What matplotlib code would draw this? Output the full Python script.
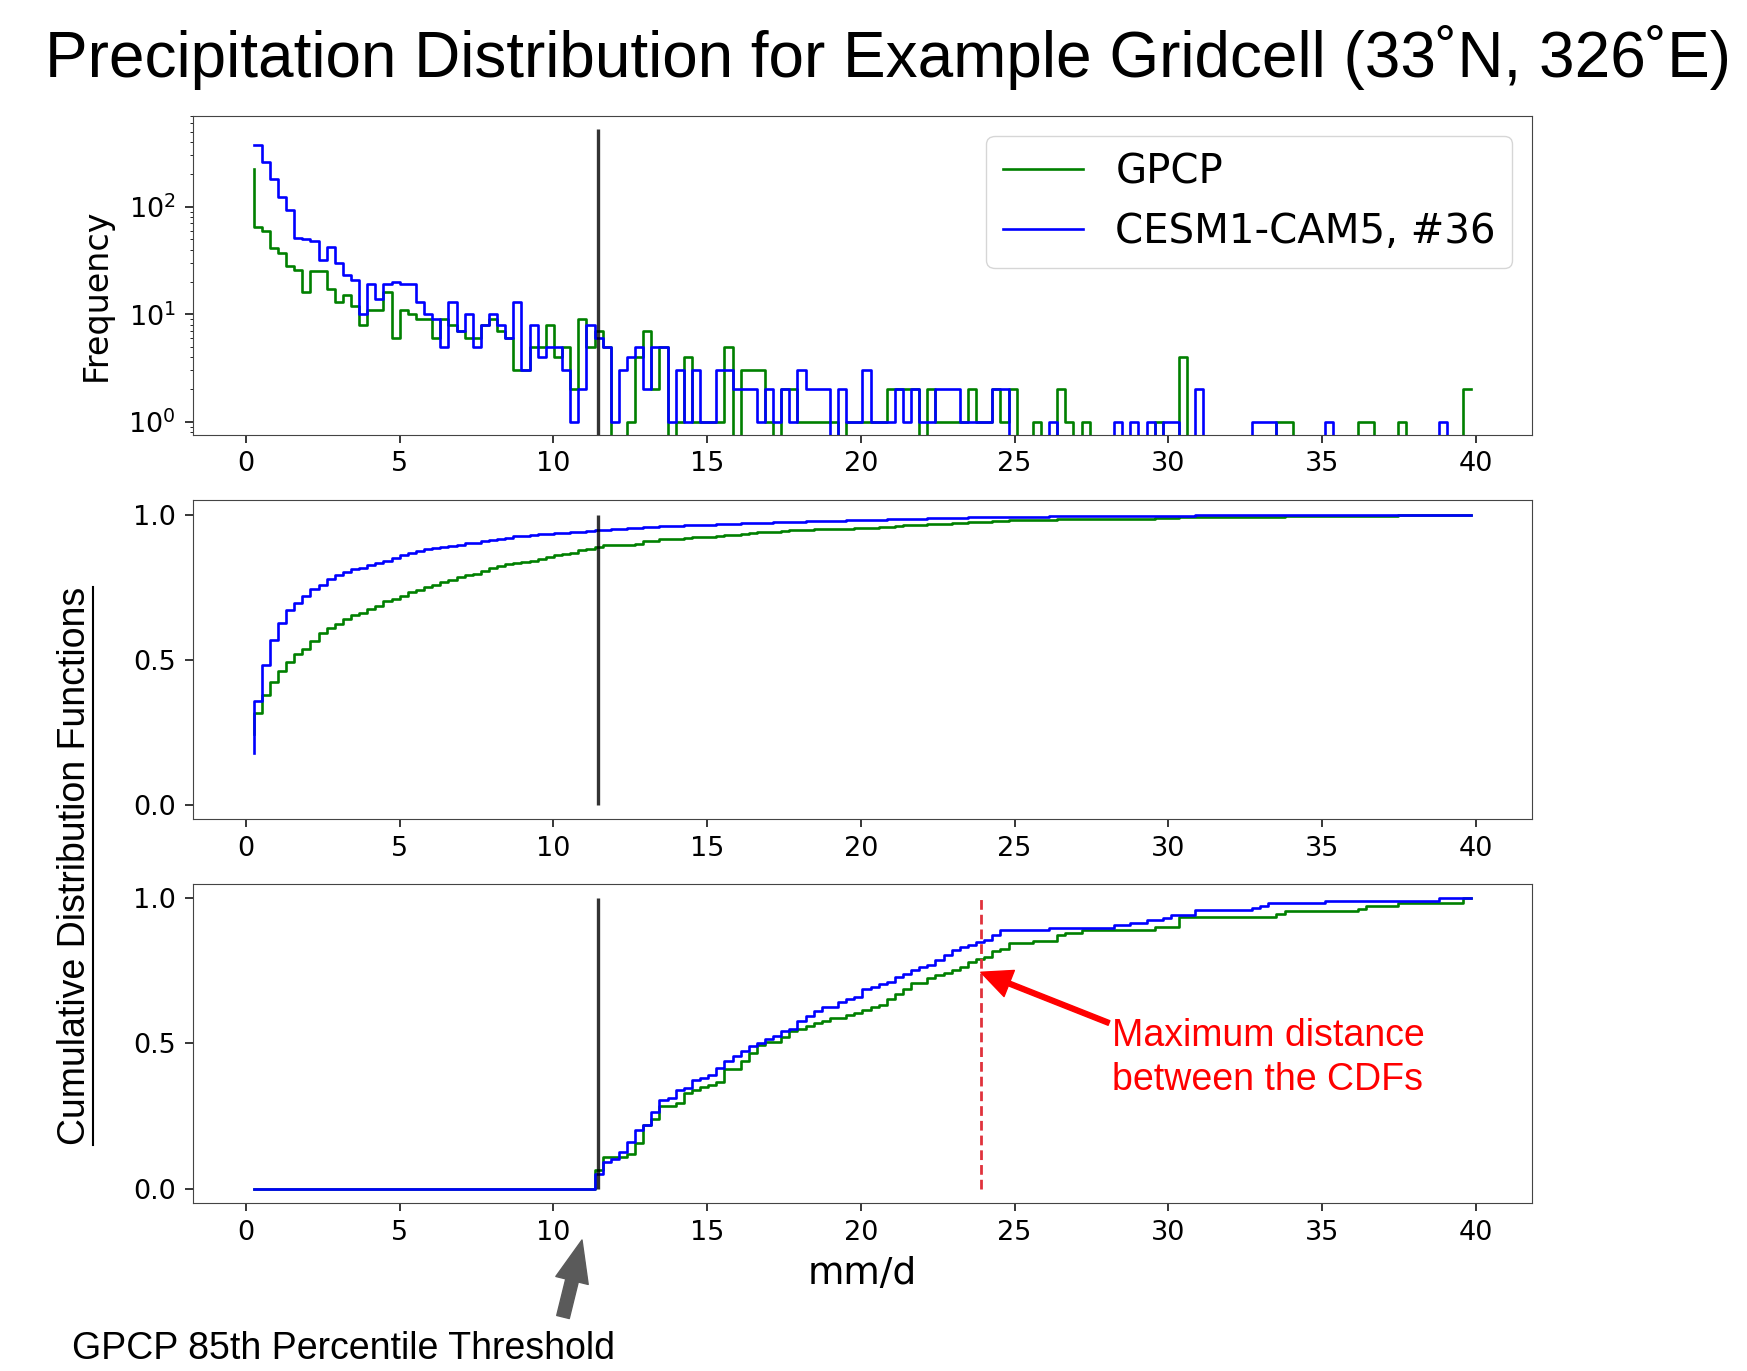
import numpy as np
import matplotlib
matplotlib.use("Agg")
from matplotlib import pyplot as plt
from matplotlib.lines import Line2D

# precipitation bins (mm/d) and number of days falling in each bin
precip_mm = np.linspace(0.25, 39.85, 151)

gpcp_counts = np.array([
    226, 65, 59, 41, 37, 28, 26, 16, 25, 25,
    17, 13, 15, 12, 8, 11, 11, 16, 6, 11,
    10, 9, 9, 6, 9, 8, 7, 6, 6, 8,
    9, 7, 6, 3, 3, 5, 5, 8, 4, 5,
    2, 9, 5, 7, 5, 0, 0, 1, 4, 7,
    2, 5, 0, 1, 4, 1, 1, 1, 1, 5,
    0, 3, 3, 3, 1, 0, 2, 2, 1, 1,
    1, 1, 1, 0, 1, 1, 1, 1, 1, 2,
    2, 2, 2, 0, 2, 1, 1, 1, 1, 2,
    1, 1, 2, 1, 2, 0, 0, 1, 0, 0,
    2, 1, 0, 1, 0, 0, 0, 0, 0, 0,
    0, 0, 1, 0, 0, 4, 0, 0, 0, 0,
    0, 0, 0, 0, 0, 0, 0, 1, 1, 0,
    0, 0, 0, 0, 0, 0, 0, 1, 1, 0,
    0, 0, 1, 0, 0, 0, 0, 0, 0, 0,
    2], dtype=float)

cesm_counts = np.array([
    375, 375, 262, 183, 124, 93, 51, 50, 48, 32,
    42, 30, 23, 21, 10, 19, 14, 19, 20, 19,
    19, 13, 10, 9, 5, 13, 7, 10, 5, 8,
    10, 8, 6, 13, 3, 8, 4, 5, 5, 3,
    1, 2, 8, 6, 5, 1, 3, 4, 5, 2,
    5, 5, 1, 3, 1, 3, 1, 1, 3, 3,
    2, 2, 2, 1, 2, 1, 2, 1, 3, 2,
    2, 2, 0, 2, 1, 1, 3, 1, 1, 1,
    2, 1, 2, 1, 1, 2, 2, 2, 1, 1,
    1, 1, 2, 2, 0, 0, 0, 0, 0, 1,
    0, 0, 0, 0, 0, 0, 0, 1, 0, 1,
    0, 1, 0, 1, 1, 0, 0, 2, 0, 0,
    0, 0, 0, 0, 1, 1, 1, 0, 0, 0,
    0, 0, 0, 1, 0, 0, 0, 0, 0, 0,
    0, 0, 0, 0, 0, 0, 0, 1, 0, 0,
    0], dtype=float)

threshold = 11.46      # GPCP 85th percentile
max_dist_x = 23.9      # location of largest gap between tail CDFs
arrow_y = 0.745
thr_line_top = 525
freq_ylim = (0.76, 700)
xticks = np.arange(0, 41, 5)

W, H = 1747, 1371
fig = plt.figure(figsize=(W / 100, H / 100), dpi=100)


def frac(px, py):
    return px / W, 1 - py / H


ax1 = fig.add_axes([0.1103, 0.683, 0.7667, 0.2325])
ax2 = fig.add_axes([0.1103, 0.4026, 0.7667, 0.2325])
ax3 = fig.add_axes([0.1103, 0.1223, 0.7667, 0.2332])

lw = 1.9
# histogram
ax1.step(precip_mm, gpcp_counts, where="pre", color="g", lw=lw, label="GPCP")
ax1.step(precip_mm, cesm_counts, where="pre", color="b", lw=lw, label="CESM1-CAM5, #36")
ax1.set_yscale("log")
ax1.vlines(threshold, freq_ylim[0], thr_line_top, colors="k", lw=2.4, alpha=0.8)
ax1.set_ylim(*freq_ylim)
ax1.legend(loc="upper right", fontsize=29)
ax1.set_ylabel("Frequency", fontsize=24)
ax1.yaxis.set_label_coords(-0.06, 0.44)

# full CDFs
gpcp_cdf = np.cumsum(gpcp_counts) / gpcp_counts.sum()
cesm_cdf = np.cumsum(cesm_counts) / cesm_counts.sum()
ax2.step(precip_mm, gpcp_cdf, where="pre", color="g", lw=lw)
ax2.step(precip_mm, cesm_cdf, where="pre", color="b", lw=lw)
ax2.vlines(threshold, 0, 1, colors="k", lw=2.4, alpha=0.8)

# CDFs of the days above the threshold
above = precip_mm > threshold
gpcp_tail = np.cumsum(np.where(above, gpcp_counts, 0))
gpcp_tail = gpcp_tail / gpcp_tail[-1]
cesm_tail = np.cumsum(np.where(above, cesm_counts, 0))
cesm_tail = cesm_tail / cesm_tail[-1]
ax3.step(precip_mm, gpcp_tail, where="pre", color="g", lw=lw)
ax3.step(precip_mm, cesm_tail, where="pre", color="b", lw=lw)
ax3.vlines(threshold, 0, 1, colors="k", lw=2.4, alpha=0.8)
ax3.vlines(max_dist_x, 0, 1, colors="#e0323c", lw=2.0, linestyles=(0, (3.5, 1.8)))
ax3.set_xlabel("mm/d", fontsize=27)
ax3.xaxis.set_label_coords(0.5, -0.165)

for ax in (ax1, ax2, ax3):
    ax.set_xticks(xticks)
    ax.tick_params(labelsize=19.5, length=6, width=1.1, pad=6)
    for s in ax.spines.values():
        s.set_color("#444")
for ax in (ax2, ax3):
    ax.set_yticks([0.0, 0.5, 1.0])

arial = ["Liberation Sans", "DejaVu Sans"]
fig.text(*frac(888, 58), "Precipitation Distribution for Example Gridcell (33˚N, 326˚E)",
         ha="center", va="center", fontsize=46, family=arial)

cdf_label = fig.text(*frac(74.6, 866), "Cumulative Distribution Functions", rotation=90,
                     ha="center", va="center", fontsize=27, family=arial)

fig.text(*frac(1112, 1046), "Maximum distance", color="red", fontsize=27,
         family=arial, ha="left", va="baseline")
fig.text(*frac(1112, 1090), "between the CDFs", color="red", fontsize=27,
         family=arial, ha="left", va="baseline")
ax3.annotate("", xy=(max_dist_x, arrow_y), xycoords="data",
             xytext=frac(1109, 1023), textcoords="figure fraction",
             arrowprops=dict(arrowstyle="simple,head_length=1.0,head_width=0.92,tail_width=0.16",
                             color="red", mutation_scale=22, shrinkA=0, shrinkB=0))

fig.text(*frac(72, 1359), "GPCP 85th Percentile Threshold", fontsize=27,
         family=arial, ha="left", va="baseline")
ax3.annotate("", xy=frac(582, 1240), xycoords="figure fraction",
             xytext=frac(563, 1317), textcoords="figure fraction",
             arrowprops=dict(arrowstyle="simple,head_length=1.0,head_width=0.8,tail_width=0.31",
                             color="#5a5a5a", mutation_scale=30, shrinkA=0, shrinkB=0))

# underline of the shared y label
fig.canvas.draw()
bb = cdf_label.get_window_extent().transformed(fig.transFigure.inverted())
ux = 92.5 / W
fig.add_artist(Line2D([ux, ux], [bb.y0, bb.y1], transform=fig.transFigure, color="k", lw=1.5))

fig.savefig("out.png", dpi=100)
